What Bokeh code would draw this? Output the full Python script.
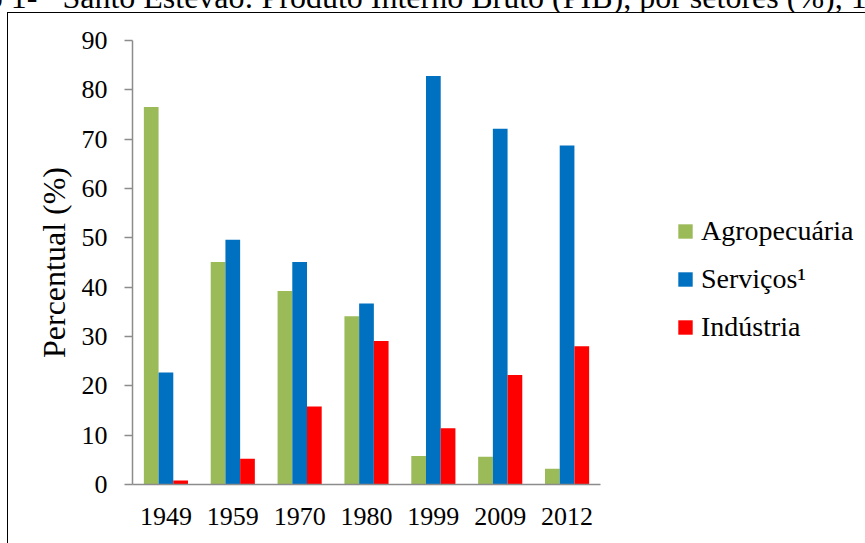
from bokeh.plotting import figure
from bokeh.models import (ColumnDataSource, Range1d, FixedTicker, Legend, LegendItem, Div)
from bokeh.layouts import column
from bokeh.transform import dodge
from bokeh.embed import file_html
from bokeh.resources import INLINE

# ---- data ----
anos = ["1949", "1959", "1970", "1980", "1999", "2009", "2012"]
agropecuaria = [76.5, 45.1, 39.2, 34.1, 5.8, 5.6, 3.2]
servicos = [22.7, 49.6, 45.1, 36.7, 82.8, 72.1, 68.7]
industria = [0.8, 5.2, 15.8, 29.1, 11.4, 22.2, 28.0]
series_labels = ["Agropecuária", "Serviços¹", "Indústria"]
y_ticks = [0, 10, 20, 30, 40, 50, 60, 70, 80, 90]
titulo_a = "Gráfico 1-"
titulo_b = "Santo Estevão: Produto Interno Bruto (PIB), por setores (%), 1949-2012"

colors = ["#9BBB59", "#0070C0", "#FF0000"]
FONT = "Liberation Serif"

source = ColumnDataSource(dict(anos=anos, agro=agropecuaria, serv=servicos, ind=industria))

p = figure(x_range=anos, y_range=Range1d(0, 90), width=858, height=531,
           frame_width=467, frame_height=443,
           min_border_left=124, min_border_right=267, min_border_top=27, min_border_bottom=61,
           output_backend="svg", toolbar_location=None, margin=(0, 0, 0, 7),
           styles={"border-left": "1px solid #000", "border-top": "1px solid #000"})

r1 = p.vbar(x=dodge("anos", -0.22, range=p.x_range), top="agro", width=0.22,
            source=source, fill_color=colors[0], line_color=None)
r2 = p.vbar(x=dodge("anos", 0.0, range=p.x_range), top="serv", width=0.22,
            source=source, fill_color=colors[1], line_color=None)
r3 = p.vbar(x=dodge("anos", 0.22, range=p.x_range), top="ind", width=0.22,
            source=source, fill_color=colors[2], line_color=None)

p.outline_line_color = None
p.xgrid.grid_line_color = None
p.ygrid.grid_line_color = None
p.x_range.range_padding = 0.0

axis_gray = "#8C8C8C"
p.yaxis.ticker = FixedTicker(ticks=y_ticks)
p.yaxis.axis_line_color = axis_gray
p.yaxis.axis_line_width = 1.5
p.yaxis.major_tick_line_color = axis_gray
p.yaxis.major_tick_line_width = 1.5
p.yaxis.major_tick_out = 8
p.yaxis.major_tick_in = 0
p.yaxis.minor_tick_line_color = None
p.yaxis.major_label_standoff = 17
p.yaxis.major_label_text_font = FONT
p.yaxis.major_label_text_font_size = "26px"
p.yaxis.major_label_text_color = "#000000"
p.yaxis.axis_label = "Percentual (%)"
p.yaxis.axis_label_text_font = FONT
p.yaxis.axis_label_text_font_size = "32px"
p.yaxis.axis_label_text_font_style = "normal"
p.yaxis.axis_label_text_color = "#000000"
p.yaxis.axis_label_standoff = 7

p.xaxis.axis_line_color = axis_gray
p.xaxis.axis_line_width = 1.5
p.xaxis.major_tick_line_color = None
p.xaxis.major_tick_out = 0
p.xaxis.major_tick_in = 0
p.xaxis.minor_tick_line_color = None
p.xaxis.major_label_standoff = 23
p.xaxis.major_label_text_font = FONT
p.xaxis.major_label_text_font_size = "26px"
p.xaxis.major_label_text_color = "#000000"

legend = Legend(items=[LegendItem(label=series_labels[0], renderers=[r1]),
                       LegendItem(label=series_labels[1], renderers=[r2]),
                       LegendItem(label=series_labels[2], renderers=[r3])],
                location=(76, 141), orientation="vertical",
                glyph_width=18, glyph_height=18, label_height=30, spacing=16,
                label_standoff=7, padding=0, margin=0,
                border_line_color=None, background_fill_alpha=0,
                label_text_font=FONT, label_text_font_size="28px",
                label_text_color="#000000")
p.add_layout(legend, "right")

title_div = Div(text=('<div style="position:absolute; left:-95px; top:-19px; white-space:nowrap; '
                      'font-family:\'Liberation Serif\'; font-size:32px; line-height:32px; color:#000;">'
                      '<span style="margin-right:17px">' + titulo_a + '</span> ' + titulo_b + '</div>'),
                width=865, height=12, margin=0,
                styles={"overflow": "hidden", "position": "relative"})

layout = column(title_div, p, spacing=0)

open("out.html", "w").write(file_html(layout, INLINE))
